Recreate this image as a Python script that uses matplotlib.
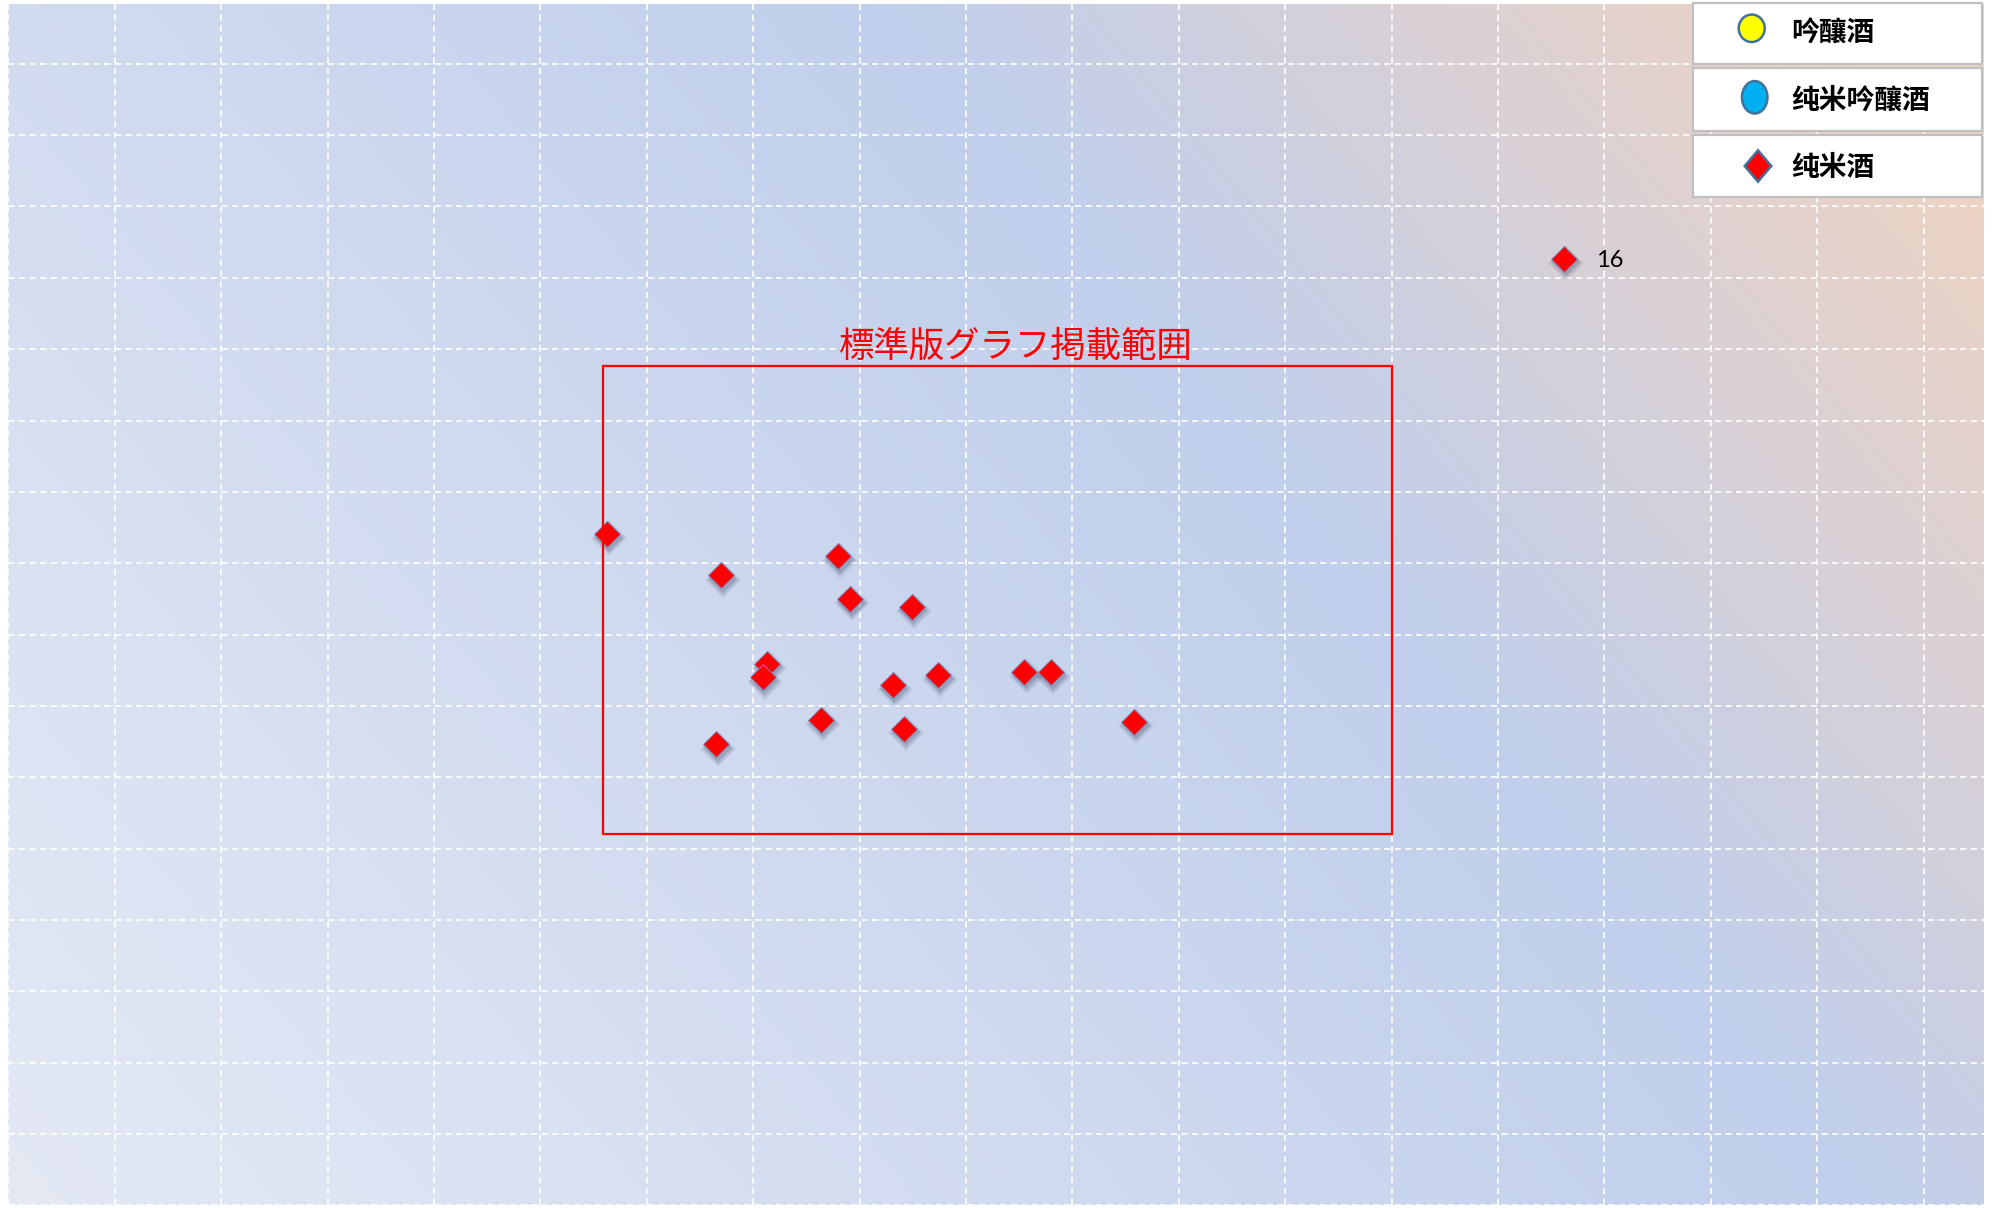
import numpy as np
import matplotlib
matplotlib.use('Agg')
import matplotlib.pyplot as plt
from matplotlib.patches import Rectangle, Ellipse, Polygon
from matplotlib.colors import to_rgb
from matplotlib.transforms import offset_copy

plt.rcParams['font.family'] = ['Noto Sans CJK JP', 'DejaVu Sans']

# ---------------- data ----------------
series_names = ['吟釀酒', '纯米吟釀酒', '纯米酒']
# 日本酒度 (x) / 酸度 (y)
ginjo_x, ginjo_y = [], []
junmai_ginjo_x, junmai_ginjo_y = [], []
junmai_x = [-4.37, -3.30, -2.20, -2.09, -1.51, -2.87, -2.91, -1.69, -1.26,
            -0.45, -0.20, -2.36, -1.58, -3.35, 0.58, 4.62]
junmai_y = [1.741, 1.683, 1.710, 1.650, 1.639, 1.559, 1.540, 1.529, 1.543,
            1.548, 1.547, 1.481, 1.468, 1.446, 1.478, 2.127]
point_label = '16'
point_label_index = 15

x_range = (-10.0, 8.568)
y_range = (0.8, 2.4838)
x_ticks = [-10, -9, -8, -7, -6, -5, -4, -3, -2, -1, 0, 1, 2, 3, 4, 5, 6, 7, 8]
y_ticks = [0.8, 0.9, 1.0, 1.1, 1.2, 1.3, 1.4, 1.5, 1.6, 1.7, 1.8, 1.9, 2.0,
           2.1, 2.2, 2.3, 2.4]
std_box_x = (-4.415, 3.002)
std_box_y = (1.320, 1.977)
std_box_label = '標準版グラフ掲載範囲'

# ---------------- figure ----------------
W, H = 1998, 1208
fig = plt.figure(figsize=(W / 100, H / 100), dpi=100)
fig.patch.set_facecolor('white')

ax = fig.add_axes([8.3 / W, 2.6 / H, 1975.7 / W, 1201.4 / H])
ax.set_facecolor('none')

# gradient background of plot area
gh, gw = 300, 500
u = np.linspace(0, 1, gw)[None, :]
v = np.linspace(1, 0, gh)[:, None]
t = u + 0.5 * v
stops_t = [0.0, 0.95, 1.5]
stops_c = [to_rgb('#e4e9f4'), to_rgb('#c1cfec'), to_rgb('#f4d3bc')]
img = np.zeros((gh, gw, 3))
for ch in range(3):
    img[..., ch] = np.interp(t, stops_t, [c[ch] for c in stops_c])
ax.imshow(img, extent=(0, 1, 0, 1), transform=ax.transAxes, aspect='auto',
          origin='upper', zorder=-5, interpolation='bilinear')

ax.set_xlim(*x_range)
ax.set_ylim(*y_range)
ax.set_xticks(x_ticks)
ax.set_yticks(y_ticks)
ax.tick_params(length=0, labelbottom=False, labelleft=False)
for s in ax.spines.values():
    s.set_visible(False)
ax.set_axisbelow(True)
ax.grid(True, color='white', alpha=1.0, linewidth=1.2,
        linestyle=(0, (3.8, 2.6)))

# marker shadows
for dx, dy, extra, a in [(1.5, -3.2, 4.5, 0.07), (1.5, -3.0, 2.5, 0.10),
                         (1.2, -2.6, 0.5, 0.16)]:
    tr = offset_copy(ax.transData, fig=fig, x=dx, y=dy, units='points')
    ax.plot(junmai_x, junmai_y, ls='none', marker='D', ms=13.6 + extra,
            color='#1e2a44', alpha=a, mew=0, transform=tr, zorder=3)

ax.plot(ginjo_x, ginjo_y, ls='none', marker='o', mfc='#ffff00', mec='#41719c')
ax.plot(junmai_ginjo_x, junmai_ginjo_y, ls='none', marker='o', mfc='#00b0f0',
        mec='#41719c')
ax.plot(junmai_x, junmai_y, ls='none', marker='D', ms=13.6, mfc='#ff0000',
        mec='#7a86b8', mew=0.7, zorder=4)

ax.annotate(point_label, (junmai_x[point_label_index], junmai_y[point_label_index]),
            xytext=(22.8, -1.5), textcoords='offset points', va='center', ha='left',
            fontsize=17, color='black', family=['Lato', 'DejaVu Sans'])

ax.add_patch(Rectangle((std_box_x[0], std_box_y[0]), std_box_x[1] - std_box_x[0],
                       std_box_y[1] - std_box_y[0], fill=False, ec='#ff0000',
                       lw=1.6, zorder=5))

# ---------------- overlay (legend, box title) ----------------
ov = fig.add_axes([0, 0, 1, 1], zorder=10)
ov.set_xlim(0, W)
ov.set_ylim(H, 0)
ov.axis('off')
ov.patch.set_alpha(0)

ov.text(1016, 347, std_box_label, color='#ff0000', fontsize=25.5,
        ha='center', va='center')

boxes_y = [(2.7, 64.3), (68.3, 130.7), (135.0, 197.3)]
for (y0, y1) in boxes_y:
    ov.add_patch(Rectangle((1692.7, y0), 289, y1 - y0, fc='white',
                           ec='#c0c0c0', lw=1.6))

ov.add_patch(Ellipse((1751.7, 28.3), 26, 27.5, fc='#ffff00', ec='#41719c', lw=1.8))
ov.add_patch(Ellipse((1754.7, 97.3), 25.5, 32.5, fc='#00b0f0', ec='#41719c', lw=1.8))
ov.add_patch(Polygon([(1758, 150.3), (1771.3, 166), (1758, 181.7), (1744.7, 166)],
                     closed=True, fc='#ff0000', ec='#41719c', lw=1.8))

text_y = [34.0, 100.5, 167.5]
for name, ty in zip(series_names, text_y):
    ov.text(1791, ty, name, fontsize=20, fontweight='bold', va='center',
            ha='left', color='black', family=['Noto Sans CJK SC', 'DejaVu Sans'])

fig.savefig('out.png', dpi=100, facecolor='white')
